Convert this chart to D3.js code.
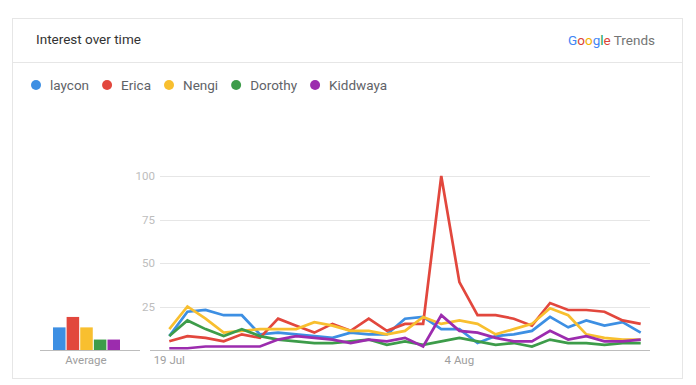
<!DOCTYPE html>
<html>
<head>
<meta charset="utf-8">
<script src="https://cdn.jsdelivr.net/npm/d3@7"></script>
<style>
  body { margin: 0; background: #fff; font-family: Roboto, "Noto Sans", sans-serif; }
  svg { display: block; }
</style>
</head>
<body>
<svg id="chart" width="696" height="385"></svg>
<script>
// ====================
// DATA
// ====================
var names = ["laycon", "Erica", "Nengi", "Dorothy", "Kiddwaya"];
var colors = ["#3d8fe3", "#e2473d", "#f8bf2f", "#3d9c4a", "#9c2cae"];
var startDay = "2020-07-19";

var laycon   = [8, 22, 23, 20, 20, 9, 10, 9, 8, 7, 10, 9, 9, 18, 19, 12, 12, 4, 8, 9, 11, 19, 13, 17, 14, 16, 10];
var erica    = [5, 8, 7, 5, 9, 7, 18, 14, 10, 15, 11, 18, 11, 15, 15, 100, 39, 20, 20, 18, 14, 27, 23, 23, 22, 17, 15];
var nengi    = [12, 25, 18, 10, 11, 12, 12, 12, 16, 14, 11, 11, 9, 11, 19, 15, 17, 15, 9, 12, 15, 24, 20, 9, 7, 6, 6];
var dorothy  = [8, 17, 12, 8, 12, 8, 6, 5, 4, 4, 5, 6, 3, 5, 3, 5, 7, 5, 3, 4, 2, 6, 4, 4, 3, 4, 4];
var kiddwaya = [1, 1, 2, 2, 2, 2, 6, 8, 7, 6, 4, 6, 5, 7, 2, 20, 11, 10, 7, 5, 5, 11, 6, 8, 5, 5, 6];

var averages = [13, 19, 13, 6, 6];
var yTicks = [25, 50, 75, 100];
var xTickLabels = [["2020-07-19", "19 Jul"], ["2020-08-04", "4 Aug"]];

// ####################################
// # setup
// ####################################
var svg = d3.select("#chart");
var parse = d3.timeParse("%Y-%m-%d");
var series = [laycon, erica, nengi, dorothy, kiddwaya];
var day0 = parse(startDay);
var dates = laycon.map(function (d, i) { return d3.timeDay.offset(day0, i); });

// card
svg.append("rect")
    .attr("x", 12.5).attr("y", 18.5)
    .attr("width", 670).attr("height", 360)
    .attr("fill", "#fff")
    .attr("stroke", "#e6e6e6");
svg.append("line")
    .attr("x1", 13).attr("x2", 682)
    .attr("y1", 62.5).attr("y2", 62.5)
    .attr("stroke", "#e6e6e6");

// header
svg.append("text")
    .attr("x", 36).attr("y", 43.5)
    .attr("font-size", 13.5)
    .attr("fill", "#333")
    .text("Interest over time");

var logo = svg.append("text")
    .attr("x", 655).attr("y", 45)
    .attr("text-anchor", "end")
    .attr("font-size", 13.5);
var gLetters = [["G", "#4285f4"], ["o", "#db4437"], ["o", "#f4b400"], ["g", "#4285f4"], ["l", "#0f9d58"], ["e", "#db4437"]];
gLetters.forEach(function (l) {
    logo.append("tspan").attr("fill", l[1]).text(l[0]);
});
logo.append("tspan").attr("fill", "#757575").attr("dx", 3).text("Trends");

// legend
var legend = svg.append("g").attr("transform", "translate(36,85)");
var lx = 0;
names.forEach(function (n, i) {
    var g = legend.append("g").attr("transform", "translate(" + lx + ",0)");
    g.append("circle").attr("r", 5).attr("fill", colors[i]);
    var t = g.append("text")
        .attr("x", 14).attr("dy", "0.35em")
        .attr("font-size", 13.5)
        .attr("fill", "#5f6368")
        .text(n);
    lx += 14 + t.node().getComputedTextLength() + 18;
});

// ####################################
// # scales
// ####################################
var x = d3.scaleTime()
    .domain([dates[0], dates[dates.length - 1]])
    .range([169.3, 640.7]);
var y = d3.scaleLinear().domain([0, 100]).range([350, 176]);

// grid
svg.append("g")
    .selectAll("line")
    .data(yTicks)
    .enter().append("line")
    .attr("x1", 160).attr("x2", 650)
    .attr("y1", function (d) { return Math.round(y(d)) + 0.5; })
    .attr("y2", function (d) { return Math.round(y(d)) + 0.5; })
    .attr("stroke", "#e6e6e6");

svg.append("g")
    .selectAll("text")
    .data(yTicks)
    .enter().append("text")
    .attr("x", 155)
    .attr("y", function (d) { return y(d); })
    .attr("dy", "0.35em")
    .attr("text-anchor", "end")
    .attr("font-size", 11.5)
    .attr("fill", "#bdbdbd")
    .text(function (d) { return d; });

// baseline
svg.append("line")
    .attr("x1", 150).attr("x2", 650)
    .attr("y1", y(0) + 0.5).attr("y2", y(0) + 0.5)
    .attr("stroke", "#bdbdbd");

// x labels
svg.append("g")
    .selectAll("text")
    .data(xTickLabels)
    .enter().append("text")
    .attr("x", function (d) { return x(parse(d[0])); })
    .attr("y", 364)
    .attr("text-anchor", "middle")
    .attr("font-size", 11.5)
    .attr("fill", "#9e9e9e")
    .text(function (d) { return d[1]; });

// lines
var line = d3.line()
    .x(function (d, i) { return x(dates[i]); })
    .y(function (d) { return y(d); });

svg.append("g")
    .selectAll("path")
    .data(series)
    .enter().append("path")
    .attr("d", line)
    .attr("fill", "none")
    .attr("stroke", function (d, i) { return colors[i]; })
    .attr("stroke-width", 2.7)
    .attr("stroke-linejoin", "miter");

// ####################################
// # average bars
// ####################################
var xb = d3.scaleBand().domain(names).range([53, 120]).paddingInner(0.08);

svg.append("line")
    .attr("x1", 40).attr("x2", 140)
    .attr("y1", y(0) + 0.5).attr("y2", y(0) + 0.5)
    .attr("stroke", "#bdbdbd");

svg.append("g")
    .selectAll("rect")
    .data(averages)
    .enter().append("rect")
    .attr("x", function (d, i) { return xb(names[i]); })
    .attr("width", xb.bandwidth())
    .attr("y", function (d) { return y(d); })
    .attr("height", function (d) { return y(0) - y(d); })
    .attr("fill", function (d, i) { return colors[i]; });

svg.append("text")
    .attr("x", 86).attr("y", 364)
    .attr("text-anchor", "middle")
    .attr("font-size", 11.5)
    .attr("fill", "#9e9e9e")
    .text("Average");
</script>
</body>
</html>
